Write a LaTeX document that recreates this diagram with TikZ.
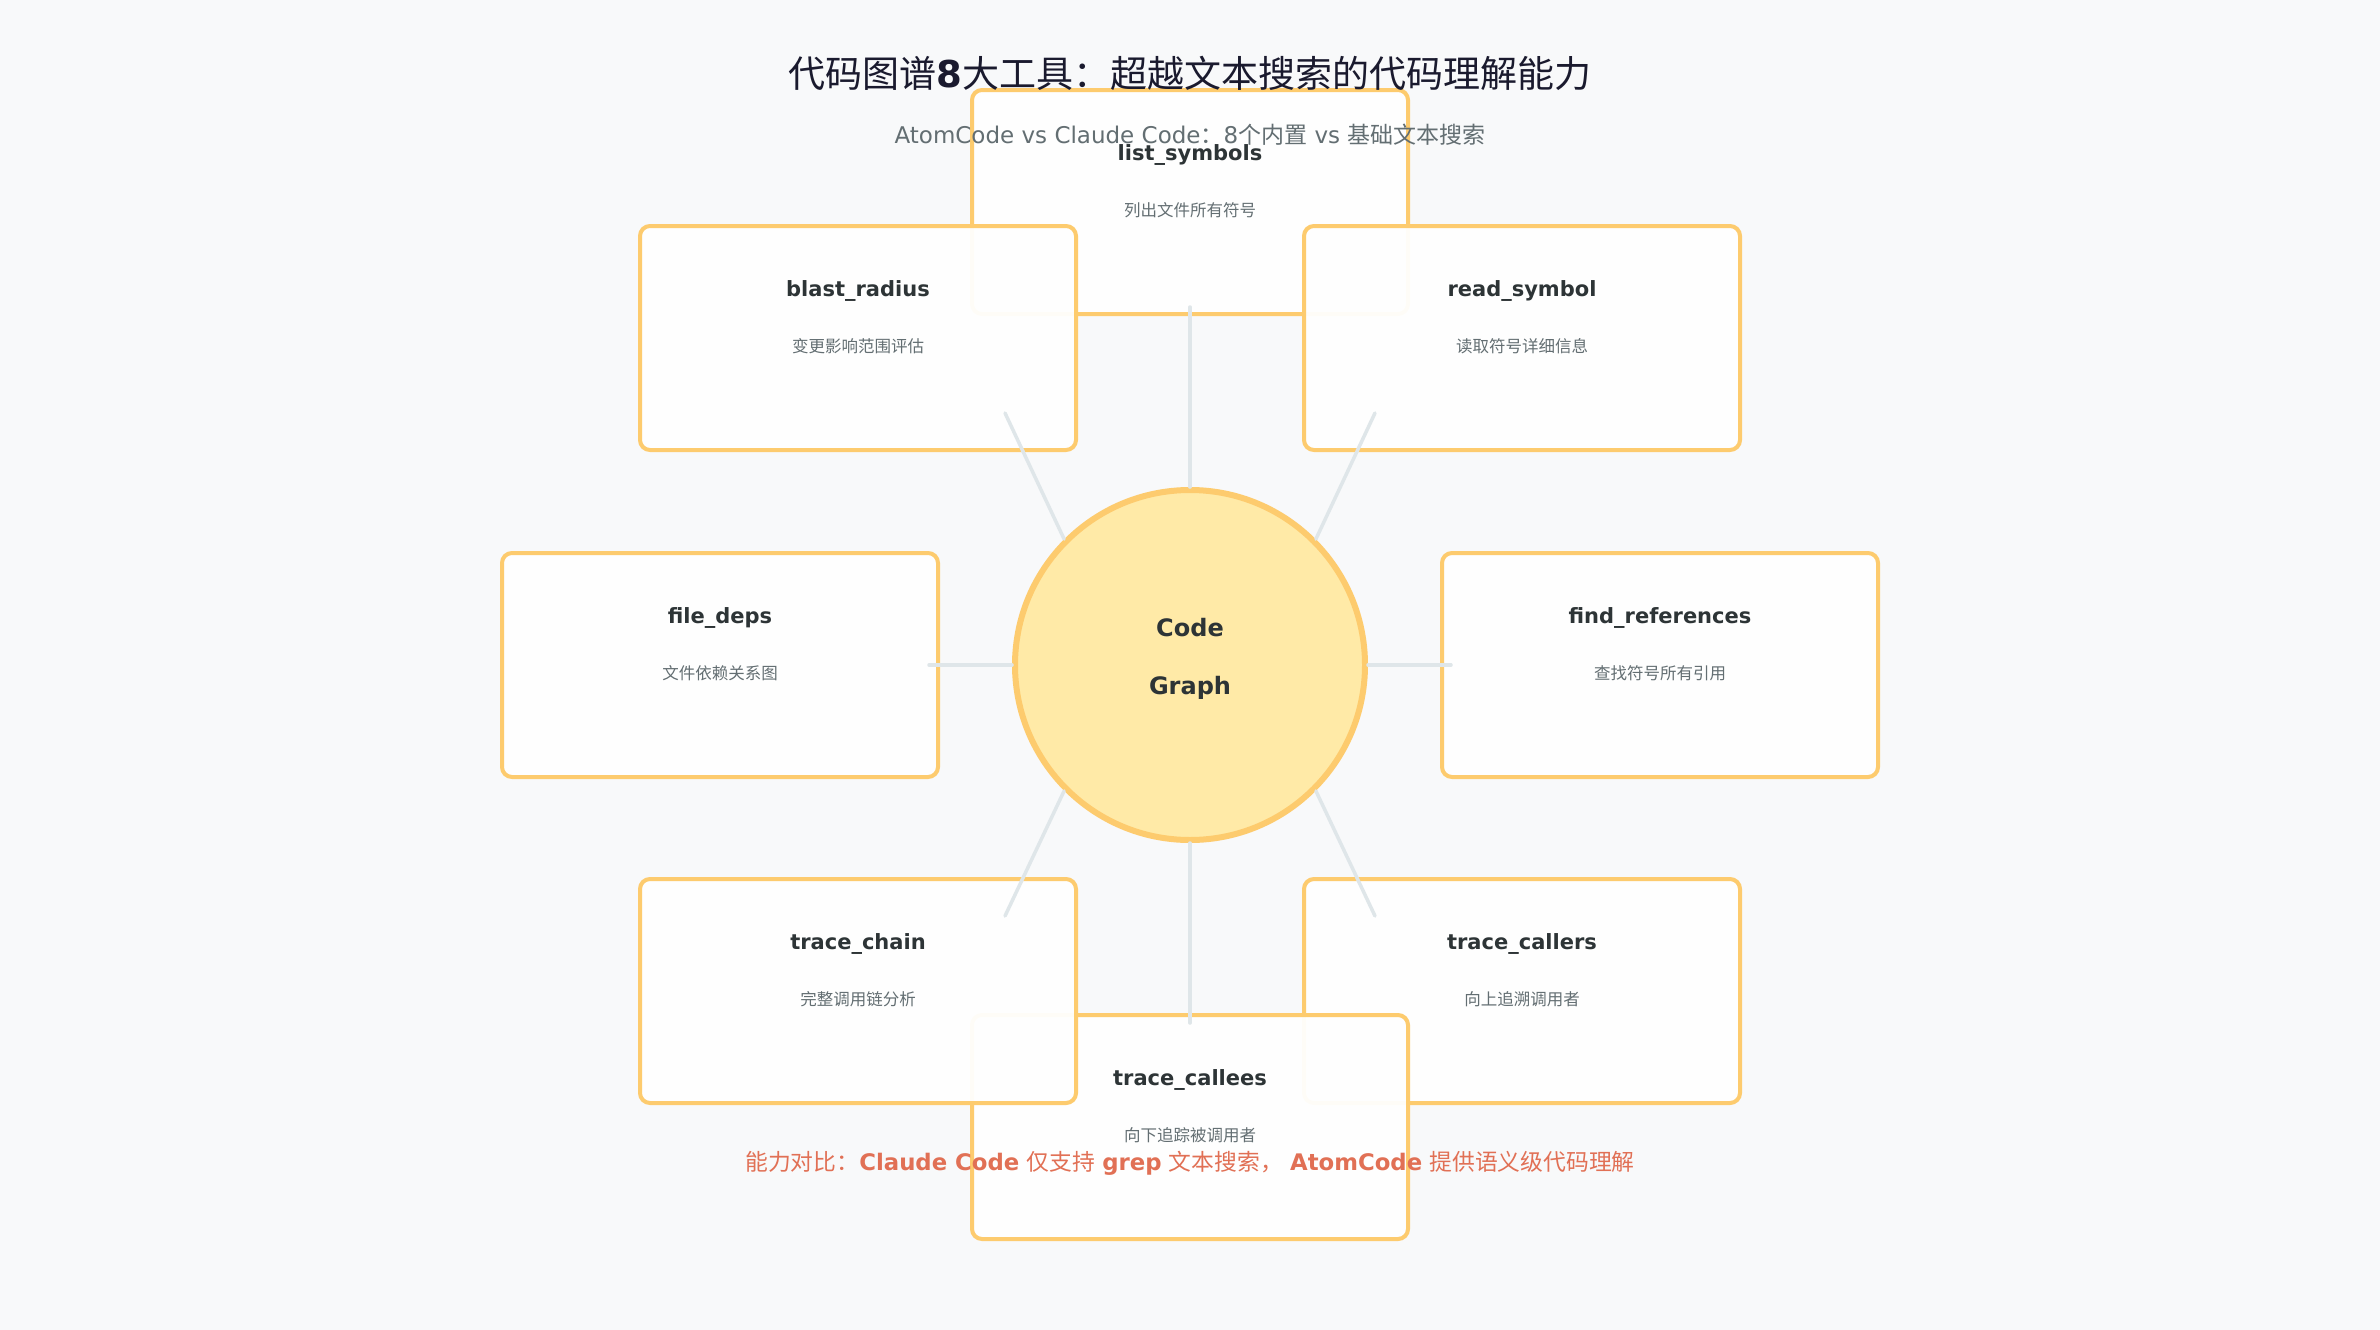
\documentclass[tikz,border=0pt]{standalone}
\usepackage{fontspec}
\setmainfont{DejaVu Sans}
\newfontfamily\cjk{Noto Sans CJK SC}
\definecolor{pagebg}{HTML}{F8F9FA}
\definecolor{toolline}{HTML}{FDCB6E}
\definecolor{hubfill}{HTML}{FFEAA7}
\definecolor{spokegray}{HTML}{DFE6E9}
\definecolor{titleink}{HTML}{2D3436}
\definecolor{mutedink}{HTML}{636E72}
\definecolor{headink}{HTML}{1A1A2E}
\definecolor{noteink}{HTML}{E17055}
\begin{document}
\begin{tikzpicture}[x=1pt,y=-1pt,
    toolbox/.style={draw=toolline, line width=4pt, rounded corners=10pt, fill=white,
        fill opacity=0.95, text opacity=1, minimum width=436pt, minimum height=224pt, inner sep=0pt},
    tooltitle/.style={font=\fontsize{21}{25}\selectfont\bfseries, text=titleink, inner sep=0pt, yshift=47pt},
    tooldesc/.style={font=\cjk\fontsize{16.5}{20}\selectfont, text=mutedink, inner sep=0pt, yshift=-8pt},
    spoke/.style={draw=spokegray, line width=3.5pt, line cap=round}]
    \fill[pagebg] (0,0) rectangle (2380,1330);
    \useasboundingbox (0,0) rectangle (2380,1330);

    % tools, clockwise from the top
    \node[toolbox] (list) at (1190,202) {};
    \node[tooltitle] (listT) at (list) {list\_symbols};
    \node[tooldesc] (listD) at (list) {列出文件所有符号};

    \node[toolbox] (read) at (1522,338) {};
    \node[tooltitle] (readT) at (read) {read\_symbol};
    \node[tooldesc] (readD) at (read) {读取符号详细信息};

    \node[toolbox] (find) at (1660,665) {};
    \node[tooltitle] (findT) at (find) {find\_references};
    \node[tooldesc] (findD) at (find) {查找符号所有引用};

    \node[toolbox] (callers) at (1522,991) {};
    \node[tooltitle] (callersT) at (callers) {trace\_callers};
    \node[tooldesc] (callersD) at (callers) {向上追溯调用者};

    \node[toolbox] (callees) at (1190,1127) {};
    \node[tooltitle] (calleesT) at (callees) {trace\_callees};
    \node[tooldesc] (calleesD) at (callees) {向下追踪被调用者};

    \node[toolbox] (chain) at (858,991) {};
    \node[tooltitle] (chainT) at (chain) {trace\_chain};
    \node[tooldesc] (chainD) at (chain) {完整调用链分析};

    \node[toolbox] (deps) at (720,665) {};
    \node[tooltitle] (depsT) at (deps) {file\_deps};
    \node[tooldesc] (depsD) at (deps) {文件依赖关系图};

    \node[toolbox] (blast) at (858,338) {};
    \node[tooltitle] (blastT) at (blast) {blast\_radius};
    \node[tooldesc] (blastD) at (blast) {变更影响范围评估};

    % hub
    \node[circle, draw=toolline, fill=hubfill, line width=6pt, minimum size=350pt, inner sep=0pt] (cg) at (1190,665) {};
    \node[font=\fontsize{24}{58}\selectfont\bfseries, text=titleink, align=center, inner sep=0pt] (cgT)
        at ([yshift=6pt]cg.center) {Code\\Graph};

    \coordinate (eList) at (1190,307);
    \coordinate (eRead) at (1375,413);
    \coordinate (eFind) at (1451,665);
    \coordinate (eCallers) at (1375,916);
    \coordinate (eCallees) at (1190,1023);
    \coordinate (eChain) at (1005,916);
    \coordinate (eDeps) at (929,665);
    \coordinate (eBlast) at (1005,413);
    \draw[spoke] (cg.90) -- (eList);
    \draw[spoke] (cg.45) -- (eRead);
    \draw[spoke] (cg.0) -- (eFind);
    \draw[spoke] (cg.-45) -- (eCallers);
    \draw[spoke] (cg.-90) -- (eCallees);
    \draw[spoke] (cg.-135) -- (eChain);
    \draw[spoke] (cg.180) -- (eDeps);
    \draw[spoke] (cg.135) -- (eBlast);

    % headings and note
    \node[font=\fontsize{37}{44}\selectfont, text=headink, inner sep=0pt] (head) at (1190,73)
        {{\cjk 代码图谱}{\bfseries 8}{\cjk 大工具：超越文本搜索的代码理解能力}};
    \node[font=\fontsize{23}{27}\selectfont, text=mutedink, inner sep=0pt] (subhead) at (1190,135)
        {AtomCode vs Claude Code{\cjk ：}8{\cjk 个内置} vs {\cjk 基础文本搜索}};
    \node[font=\fontsize{22.8}{27}\selectfont, text=noteink, inner sep=0pt] (note) at (1190,1163)
        {{\cjk 能力对比：}{\bfseries Claude Code}\ {\cjk 仅支持}\ {\bfseries grep}\ {\cjk 文本搜索，}\ {\bfseries AtomCode}\ {\cjk 提供语义级代码理解}};
\end{tikzpicture}
\end{document}
